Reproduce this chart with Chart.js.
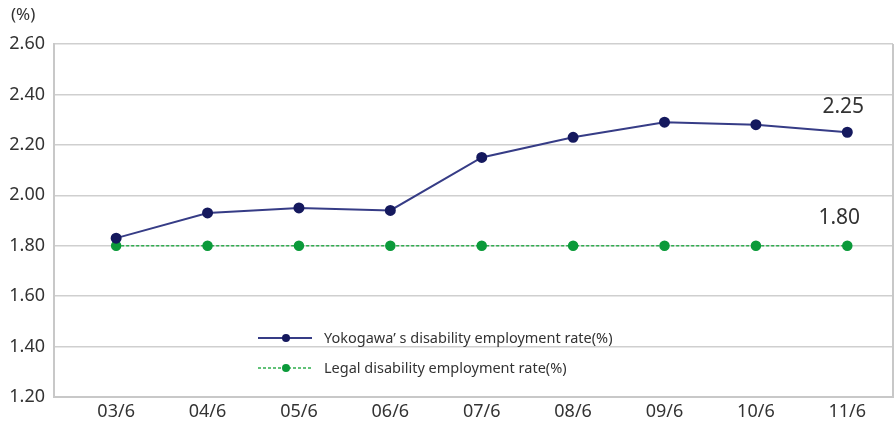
<!DOCTYPE html>
<html>
<head>
<meta charset="utf-8">
<script src="https://cdn.jsdelivr.net/npm/chart.js@4"></script>
<style>
  html, body { margin: 0; padding: 0; background: #fff; }
  #wrap { position: relative; width: 895px; height: 424px; }
</style>
</head>
<body>
<div id="wrap"><canvas id="rateChart" width="895" height="424"></canvas></div>
<script>
const months = ["03/6", "04/6", "05/6", "06/6", "07/6", "08/6", "09/6", "10/6", "11/6"];
const yokogawaRate = [1.83, 1.93, 1.95, 1.94, 2.15, 2.23, 2.29, 2.28, 2.25];
const legalRate = [1.80, 1.80, 1.80, 1.80, 1.80, 1.80, 1.80, 1.80, 1.80];
const seriesNames = ["Yokogawa\u2019 s disability employment rate(%)", "Legal disability employment rate(%)"];
const yTicks = [1.20, 1.40, 1.60, 1.80, 2.00, 2.20, 2.40, 2.60];

const FONT = "'Noto Sans', sans-serif";
const TEXT = "#333";
const FRAME = "#c8c8c8";

// x positions are the month index, so the linear scale can leave room on both sides
const toPoints = (vals) => vals.map((v, i) => ({ x: i, y: v }));

// right frame line of the plot
const frame = {
  id: "frame",
  beforeDatasetsDraw(chart) {
    const { ctx, chartArea } = chart;
    ctx.save();
    ctx.strokeStyle = FRAME;
    ctx.lineWidth = 2;
    ctx.beginPath();
    ctx.moveTo(chartArea.right, chartArea.top);
    ctx.lineTo(chartArea.right, chartArea.bottom);
    ctx.stroke();
    ctx.restore();
  }
};

// "(%)", the end value labels and the legend box inside the plot
const extras = {
  id: "extras",
  afterDatasetsDraw(chart) {
    const ctx = chart.ctx;
    const xs = chart.scales.x, ys = chart.scales.y;
    ctx.save();
    ctx.fillStyle = TEXT;
    ctx.font = "17px " + FONT;
    ctx.textAlign = "left";
    ctx.textBaseline = "middle";
    ctx.fillText("(%)", 11, 15);

    // value labels over the last month
    ctx.font = "21px " + FONT;
    ctx.textAlign = "center";
    const last = months.length - 1;
    ctx.fillText(yokogawaRate[last].toFixed(2), xs.getPixelForValue(last) - 4, ys.getPixelForValue(yokogawaRate[last]) - 25);
    ctx.fillText(legalRate[last].toFixed(2), xs.getPixelForValue(last) - 8, ys.getPixelForValue(legalRate[last]) - 28);

    // legend
    ctx.font = "14.5px " + FONT;
    ctx.textAlign = "left";
    chart.data.datasets.forEach((ds, i) => {
      const y = 338 + i * 30;
      ctx.strokeStyle = ds.borderColor;
      ctx.lineWidth = ds.borderWidth;
      ctx.setLineDash(ds.borderDash || []);
      ctx.beginPath();
      ctx.moveTo(258, y);
      ctx.lineTo(312, y);
      ctx.stroke();
      ctx.setLineDash([]);
      ctx.fillStyle = ds.pointBackgroundColor;
      ctx.beginPath();
      ctx.arc(286, y, 4, 0, Math.PI * 2);
      ctx.fill();
      ctx.fillStyle = TEXT;
      ctx.fillText(seriesNames[i], 324, y + 1);
    });
    ctx.restore();
  }
};

new Chart(document.getElementById("rateChart"), {
  type: "line",
  data: {
    datasets: [
      {
        label: seriesNames[0],
        data: toPoints(yokogawaRate),
        borderColor: "#363c86",
        borderWidth: 2,
        pointBackgroundColor: "#15195e",
        pointBorderColor: "#15195e",
        pointRadius: 4.5,
        tension: 0
      },
      {
        label: seriesNames[1],
        data: toPoints(legalRate),
        borderColor: "#2fae4e",
        borderWidth: 1.5,
        borderDash: [3, 2],
        pointBackgroundColor: "#0b9a3a",
        pointBorderColor: "#0b9a3a",
        pointRadius: 4.5,
        tension: 0
      }
    ]
  },
  options: {
    responsive: false,
    animation: false,
    layout: { autoPadding: false, padding: { top: 44, right: 2, left: 0, bottom: 0 } },
    plugins: { legend: { display: false }, tooltip: { enabled: false } },
    scales: {
      x: {
        type: "linear",
        min: -0.68,
        max: 8.5,
        afterFit: (s) => { s.height = 27; s.paddingLeft = 0; s.paddingRight = 0; },
        afterBuildTicks: (s) => { s.ticks = months.map((m, i) => ({ value: i })); },
        grid: { display: false, drawTicks: false },
        border: { color: FRAME, width: 2 },
        ticks: {
          color: TEXT,
          font: { family: FONT, size: 18 },
          padding: 4,
          maxRotation: 0,
          callback: (v) => months[v]
        }
      },
      y: {
        min: 1.2,
        max: 2.6,
        afterFit: (s) => { s.width = 54; },
        afterBuildTicks: (s) => { s.ticks = yTicks.map((v) => ({ value: v })); },
        grid: { color: "#cfcfcf", lineWidth: 1.5, drawTicks: false },
        border: { color: FRAME, width: 2 },
        ticks: {
          color: TEXT,
          font: { family: FONT, size: 18 },
          padding: 9,
          callback: (v) => v.toFixed(2)
        }
      }
    }
  },
  plugins: [frame, extras]
});
</script>
</body>
</html>
